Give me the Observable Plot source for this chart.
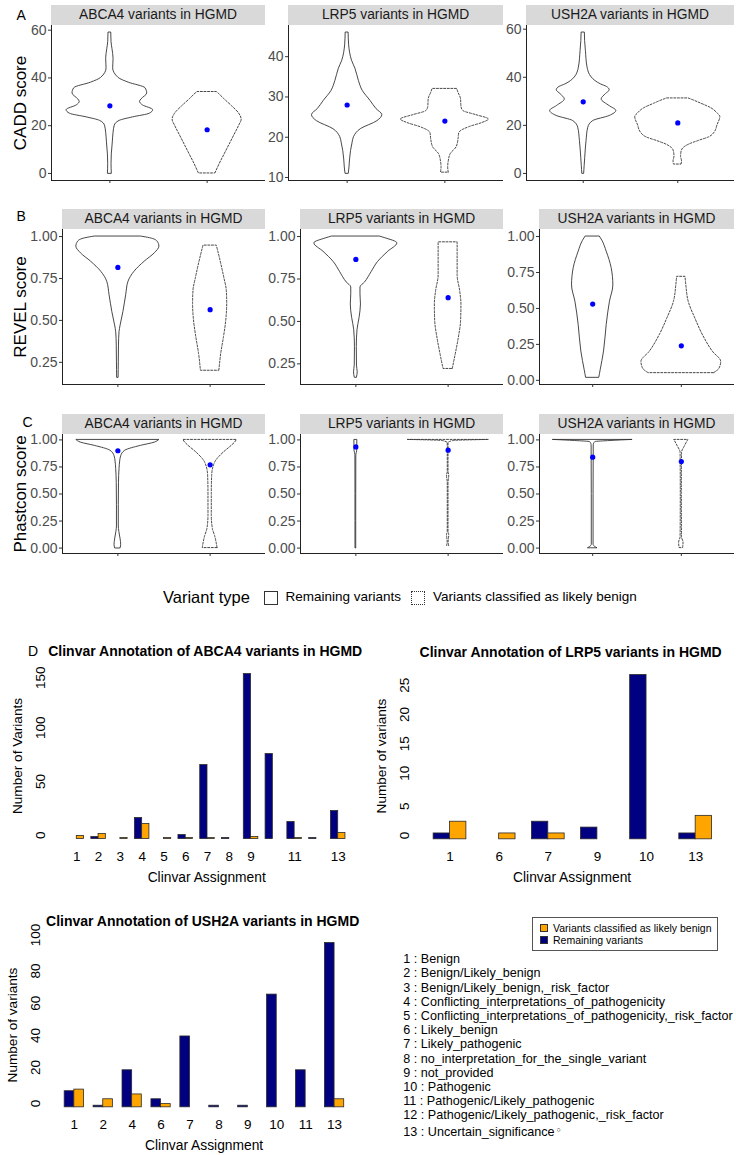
<!DOCTYPE html>
<html><head><meta charset="utf-8">
<script src="https://cdn.jsdelivr.net/npm/d3@7"></script>
<script src="https://cdn.jsdelivr.net/npm/@observablehq/plot@0.6"></script>
<style>
body{margin:0;background:#fff;}
#page{position:relative;width:736px;height:1155px;font-family:"Liberation Sans",Arial,Helvetica,sans-serif;overflow:hidden;background:#fff;}
.t{position:absolute;white-space:nowrap;}
.strip{position:absolute;background:#d9d9d9;color:#1a1a1a;font-size:13.8px;text-align:center;}
.plot{position:absolute;}
</style></head><body><div id="page"></div>
<script>
// ---------------- DATA ----------------
const genes = ["ABCA4", "LRP5", "USH2A"];
const variantTypes = ["Remaining variants", "Variants classified as likely benign"];
const panelLetters = ["A", "B", "C", "D"];
const scoreTitles = ["CADD score", "REVEL score", "Phastcon score"];

// violin profiles: [score, half-width (x units)]
const caddABCA4Remaining = [[0,0.02],[4,0.017],[8,0.02],[13,0.03],[17,0.038],[20,0.05],[22,0.1],[23.5,0.24],[25,0.41],[26.5,0.445],[28.5,0.34],[30,0.31],[31,0.325],[33.5,0.384],[35.7,0.366],[38,0.195],[40,0.09],[44,0.034],[48,0.038],[52,0.027],[55,0.017],[59,0.014]];
const caddABCA4Benign = [[0,0.085],[4,0.13],[8,0.18],[12,0.23],[16,0.28],[20,0.33],[22.5,0.355],[25,0.33],[28,0.26],[31,0.18],[33,0.13],[34.1,0.1]];
const caddLRP5Remaining = [[11,0.017],[12.5,0.024],[14.5,0.03],[16.6,0.04],[18.5,0.055],[20,0.07],[22,0.14],[24,0.31],[25.5,0.36],[27,0.3],[29,0.24],[31.5,0.16],[34,0.12],[37,0.085],[39,0.05],[41,0.03],[43,0.02],[46,0.015]];
const caddLRP5Benign = [[11.2,0.04],[12.5,0.034],[14,0.04],[15.8,0.06],[17.5,0.12],[19.5,0.14],[21,0.147],[22.5,0.25],[23.5,0.38],[24.4,0.45],[25.5,0.32],[26.5,0.19],[27.5,0.17],[29.5,0.165],[31,0.14],[32,0.126]];
const caddUSH2ARemaining = [[0,0.01],[3,0.015],[6.5,0.021],[13.5,0.035],[19,0.053],[21.8,0.106],[23.9,0.28],[26,0.35],[28,0.28],[30.8,0.195],[33,0.24],[34.6,0.28],[36,0.25],[37,0.19],[39.9,0.09],[44,0.046],[51,0.028],[55,0.02],[58.6,0.017]];
const caddUSH2ABenign = [[3.7,0.04],[5,0.045],[7,0.035],[9,0.04],[10.5,0.06],[12,0.12],[13.5,0.22],[15,0.33],[17,0.39],[20,0.42],[23.5,0.45],[25,0.42],[27,0.36],[29,0.25],[30.5,0.16],[31.2,0.113]];

const revelABCA4Remaining = [[0.16,0.008],[0.25,0.01],[0.35,0.012],[0.43,0.018],[0.47,0.03],[0.55,0.06],[0.65,0.09],[0.73,0.115],[0.79,0.18],[0.85,0.29],[0.9,0.4],[0.94,0.45],[0.97,0.43],[0.99,0.35],[1.0,0.25]];
const revelABCA4Benign = [[0.2,0.1],[0.3,0.12],[0.4,0.15],[0.5,0.175],[0.6,0.185],[0.68,0.18],[0.75,0.155],[0.85,0.115],[0.946,0.072]];
const revelLRP5Remaining = [[0.17,0.012],[0.2,0.02],[0.24,0.012],[0.35,0.01],[0.45,0.018],[0.52,0.04],[0.6,0.055],[0.66,0.05],[0.7,0.05],[0.73,0.1],[0.79,0.17],[0.85,0.24],[0.91,0.35],[0.96,0.45],[0.99,0.32],[1.0,0.26]];
const revelLRP5Benign = [[0.22,0.05],[0.3,0.08],[0.4,0.115],[0.5,0.14],[0.6,0.144],[0.68,0.13],[0.77,0.103],[0.9,0.103],[0.966,0.103]];
const revelUSH2ARemaining = [[0.02,0.075],[0.07,0.09],[0.2,0.128],[0.384,0.158],[0.547,0.195],[0.66,0.233],[0.78,0.214],[0.895,0.158],[0.97,0.11],[1.0,0.08]];
const revelUSH2ABenign = [[0.05,0.37],[0.08,0.43],[0.128,0.45],[0.198,0.357],[0.314,0.244],[0.43,0.158],[0.547,0.083],[0.663,0.056],[0.72,0.047]];

const phastABCA4Remaining = [[0,0.03],[0.03,0.036],[0.08,0.03],[0.15,0.016],[0.2,0.01],[0.4,0.01],[0.6,0.012],[0.73,0.018],[0.8,0.025],[0.85,0.036],[0.9,0.08],[0.945,0.25],[0.975,0.4],[1.0,0.45]];
const phastABCA4Benign = [[0,0.08],[0.05,0.07],[0.11,0.054],[0.175,0.03],[0.3,0.018],[0.5,0.018],[0.67,0.022],[0.79,0.054],[0.88,0.144],[0.95,0.24],[0.975,0.27],[1.0,0.29]];
const phastLRP5Remaining = [[0,0.004],[0.5,0.004],[0.86,0.005],[0.9,0.015],[1.0,0.016]];
const phastLRP5Benign = [[0.02,0.012],[0.05,0.005],[0.12,0.012],[0.15,0.004],[0.6,0.004],[0.67,0.012],[0.7,0.004],[0.97,0.004],[0.99,0.06],[1.0,0.44]];
const phastUSH2ARemaining = [[0,0.05],[0.01,0.03],[0.03,0.01],[0.5,0.01],[0.95,0.012],[0.98,0.03],[0.99,0.2],[1.0,0.45]];
const phastUSH2ABenign = [[0,0.02],[0.05,0.025],[0.1,0.008],[0.5,0.006],[0.88,0.008],[0.94,0.04],[1.0,0.08]];

// mean points (blue dots), per gene
const caddMeanRemaining = [28.3, 28.0, 29.8];
const caddMeanBenign = [18.3, 24.0, 21.0];
const revelMeanRemaining = [0.816, 0.865, 0.53];
const revelMeanBenign = [0.564, 0.64, 0.24];
const phastMeanRemaining = [0.90, 0.935, 0.84];
const phastMeanBenign = [0.77, 0.905, 0.80];

// y tick labels per gene
const caddTicks = [[0,20,40,60],[10,20,30,40],[0,20,40,60]];
const revelTicks = [[0.25,0.5,0.75,1],[0.25,0.5,0.75,1],[0,0.25,0.5,0.75,1]];
const phastTicks = [[0,0.25,0.5,0.75,1],[0,0.25,0.5,0.75,1],[0,0.25,0.5,0.75,1]];

// Clinvar bar data
const clinvarCodes = ["1","2","3","4","5","6","7","8","9","10","11","12","13"];
const clinvarNames = ["Benign","Benign/Likely_benign","Benign/Likely_benign,_risk_factor","Conflicting_interpretations_of_pathogenicity","Conflicting_interpretations_of_pathogenicity,_risk_factor","Likely_benign","Likely_pathogenic","no_interpretation_for_the_single_variant","not_provided","Pathogenic","Pathogenic/Likely_pathogenic","Pathogenic/Likely_pathogenic,_risk_factor","Uncertain_significance"];

const abca4Categories = ["1","2","3","4","5","6","7","8","9","10","11","12","13"];
const abca4Remaining = [0,2,0,21,0,4,74,1,165,85,17,1,28];
const abca4Benign = [3,5,1,15,1,1,1,0,2,0,1,0,6];
const abca4ShownLabels = ["1","2","3","4","5","6","7","8","9","11","13"];
const abca4YTicks = [0,50,100,150];

const lrp5Categories = ["1","6","7","9","10","13"];
const lrp5Remaining = [1,0,3,2,28,1];
const lrp5Benign = [3,1,1,0,0,4];
const lrp5ShownLabels = ["1","6","7","9","10","13"];
const lrp5YTicks = [0,5,10,15,20,25];

const ush2aCategories = ["1","2","4","6","7","8","9","10","11","13"];
const ush2aRemaining = [10,1,23,5,44,1,1,70,23,102];
const ush2aBenign = [11,5,8,2,0,0,0,0,0,5];
const ush2aShownLabels = ["1","2","4","6","7","8","9","10","11","13"];
const ush2aYTicks = [0,20,40,60,80,100];

const barColors = ["#000080", "#FFA500"]; // remaining, benign

// ---------------- LAYOUT HELPERS ----------------
const page = document.getElementById("page");
const FONT = '"Liberation Sans", Arial, Helvetica, sans-serif';

function text(str, x, baseline, size, opts = {}) {
  const d = document.createElement("div");
  d.className = "t";
  d.textContent = str;
  d.style.fontSize = size + "px";
  d.style.lineHeight = size + "px";
  d.style.top = (baseline - 0.85 * size) + "px";
  d.style.left = x + "px";
  if (opts.bold) d.style.fontWeight = "bold";
  if (opts.color) d.style.color = opts.color;
  if (opts.center) d.style.transform = "translateX(-50%)";
  page.appendChild(d);
  return d;
}
function vtext(str, cx, cy, size) {
  const d = document.createElement("div");
  d.className = "t";
  d.textContent = str;
  d.style.fontSize = size + "px";
  d.style.lineHeight = size + "px";
  d.style.left = cx + "px";
  d.style.top = cy + "px";
  d.style.transform = "translate(-50%,-50%) rotate(-90deg)";
  page.appendChild(d);
}
function place(svg, left, top) {
  svg.classList.add("plot");
  svg.style.left = left + "px";
  svg.style.top = top + "px";
  page.appendChild(svg);
}

// ---------------- VIOLIN PANELS ----------------
function violinPanel({frame, remaining, benign, meanR, meanB, ticks, fmt, strip}) {
  const [x0, x1, y0, y1] = frame;
  const vals = remaining.concat(benign).map(d => d[0]);
  const lo = d3.min(vals), hi = d3.max(vals), pad = (hi - lo) * 0.05;
  const ml = 44, mr = 3, mt = 1, mb = 6;
  const rem = remaining.map(([v, w]) => ({g: 1, v, w}));
  const ben = benign.map(([v, w]) => ({g: 2, v, w}));
  const means = [{g: 1, v: meanR}, {g: 2, v: meanB}];
  const common = {y: "v", x1: d => d.g - d.w, x2: d => d.g + d.w, fill: "white", stroke: "#333", strokeWidth: 0.9, curve: "monotone-y"};
  const svg = Plot.plot({
    width: x1 - x0 + ml + mr, height: y1 - y0 + mt + mb,
    marginLeft: ml, marginRight: mr, marginTop: mt, marginBottom: mb,
    style: {background: "transparent", color: "#4d4d4d", fontFamily: FONT, overflow: "visible"},
    x: {domain: [0.4, 2.6], axis: null},
    y: {domain: [lo - pad, hi + pad], axis: null},
    marks: [
      Plot.areaX(rem, common),
      Plot.areaX(ben, {...common, strokeDasharray: "2,1.6"}),
      Plot.dot(means, {x: "g", y: "v", fill: "blue", r: 2.6}),
      Plot.ruleX([0.4], {stroke: "#222", strokeWidth: 1}),
      Plot.ruleY([lo - pad], {stroke: "#222", strokeWidth: 1}),
      Plot.axisY({ticks, tickFormat: fmt, tickSize: 3, tickPadding: 2, fontSize: 14, label: null, stroke: "#333"}),
      Plot.axisX({ticks: [1, 2], tickFormat: () => "", tickSize: 3, label: null, stroke: "#333"})
    ]
  });
  place(svg, x0 - ml, y0 - mt);
  const s = document.createElement("div");
  s.className = "strip";
  s.style.left = x0 + "px"; s.style.width = (x1 - x0) + "px";
  s.style.top = (y0 - 20) + "px"; s.style.height = "20px"; s.style.lineHeight = "20px";
  s.textContent = strip;
  page.appendChild(s);
}

const rowFrames = [
  {y: [25, 180], xs: [[51, 265], [288, 503], [526, 734]]},
  {y: [229, 384], xs: [[62, 265], [300, 503], [539, 734]]},
  {y: [434, 553], xs: [[62, 265], [300, 503], [539, 734]]}
];
const rows = [
  {rem: [caddABCA4Remaining, caddLRP5Remaining, caddUSH2ARemaining], ben: [caddABCA4Benign, caddLRP5Benign, caddUSH2ABenign], mR: caddMeanRemaining, mB: caddMeanBenign, ticks: caddTicks, fmt: d3.format("d")},
  {rem: [revelABCA4Remaining, revelLRP5Remaining, revelUSH2ARemaining], ben: [revelABCA4Benign, revelLRP5Benign, revelUSH2ABenign], mR: revelMeanRemaining, mB: revelMeanBenign, ticks: revelTicks, fmt: d3.format(".2f")},
  {rem: [phastABCA4Remaining, phastLRP5Remaining, phastUSH2ARemaining], ben: [phastABCA4Benign, phastLRP5Benign, phastUSH2ABenign], mR: phastMeanRemaining, mB: phastMeanBenign, ticks: phastTicks, fmt: d3.format(".2f")}
];
rows.forEach((r, ri) => {
  const f = rowFrames[ri];
  genes.forEach((g, gi) => {
    violinPanel({
      frame: [f.xs[gi][0], f.xs[gi][1], f.y[0], f.y[1]],
      remaining: r.rem[gi], benign: r.ben[gi], meanR: r.mR[gi], meanB: r.mB[gi],
      ticks: r.ticks[gi], fmt: r.fmt, strip: `${g} variants in HGMD`
    });
  });
  vtext(scoreTitles[ri], 20, (f.y[0] + f.y[1]) / 2, 17);
});
text(panelLetters[0], 16.5, 19.5, 14);
text(panelLetters[1], 16.5, 221, 14);
text(panelLetters[2], 22.5, 427, 14);
text(panelLetters[3], 28, 655.5, 14);

// ggplot legend
text("Variant type", 163, 603, 16.5);
[[263.5, variantTypes[0], "solid"], [411, variantTypes[1], "dotted"]].forEach(([x, label, st]) => {
  const b = document.createElement("div");
  b.style.position = "absolute"; b.style.left = x + "px"; b.style.top = "590.5px";
  b.style.width = "12px"; b.style.height = "12px"; b.style.border = "1px " + st + " #333";
  page.appendChild(b);
  text(label, x + 22, 601.5, 13.5);
});

// ---------------- BAR CHARTS ----------------
function barChart({frame, categories, remaining, benign, shown, yTicks, title, ytitle, titleBaseline}) {
  const [x0, x1, y0, y1] = frame;
  const n = categories.length;
  const ext = 0.04 * (3 * n - 1);
  const ymax = d3.max(remaining.concat(benign));
  const data = [];
  categories.forEach((c, i) => {
    data.push({c, s: variantTypes[0], x1: 3 * i + 1, x2: 3 * i + 2, v: remaining[i]});
    data.push({c, s: variantTypes[1], x1: 3 * i + 2, x2: 3 * i + 3, v: benign[i]});
  });
  const labelPos = new Map(categories.map((c, i) => [3 * i + 2, c]));
  const tickPos = categories.map((c, i) => 3 * i + 2).filter(p => shown.includes(labelPos.get(p)));
  const ml = 30, mr = 4, mt = 4, mb = 26;
  const svg = Plot.plot({
    width: x1 - x0 + ml + mr, height: y1 - y0 + mt + mb,
    marginLeft: ml, marginRight: mr, marginTop: mt, marginBottom: mb,
    style: {background: "transparent", color: "#000", fontFamily: FONT, overflow: "visible"},
    x: {domain: [1 - ext, 3 * n + ext], axis: null},
    y: {domain: [-0.04 * ymax, 1.04 * ymax], axis: null},
    color: {domain: variantTypes, range: barColors},
    marks: [
      Plot.rect(data, {x1: "x1", x2: "x2", y1: 0, y2: "v", fill: "s", stroke: "#2a2a2a", strokeWidth: 0.8}),
      Plot.axisX({ticks: tickPos, tickFormat: p => labelPos.get(p), tickSize: 0, tickPadding: 5.5, fontSize: 13.5, label: null}),
      Plot.text(yTicks, {y: d => d, text: d => String(d), frameAnchor: "left", dx: -18, rotate: -90, lineAnchor: "middle", fontSize: 13.5, fill: "#000"})
    ]
  });
  place(svg, x0 - ml, y0 - mt);
  text(title, (x0 + x1) / 2 - 1.5, titleBaseline, 14, {bold: true, center: true});
  text("Clinvar Assignment", (x0 + x1) / 2, y1 + 37.7, 13.8, {center: true});
  vtext(ytitle, x0 - 40, (y0 + y1) / 2, 13.6);
}

barChart({frame: [57.7, 355.7, 666.7, 844.9], categories: abca4Categories, remaining: abca4Remaining, benign: abca4Benign, shown: abca4ShownLabels, yTicks: abca4YTicks, title: "Clinvar Annotation of ABCA4 variants in HGMD", ytitle: "Number of Variants", titleBaseline: 655.5});
barChart({frame: [421.8, 722.5, 667.5, 844.9], categories: lrp5Categories, remaining: lrp5Remaining, benign: lrp5Benign, shown: lrp5ShownLabels, yTicks: lrp5YTicks, title: "Clinvar Annotation of LRP5 variants in HGMD", ytitle: "Number of variants", titleBaseline: 656.5});
barChart({frame: [53.2, 355.1, 935.9, 1113.3], categories: ush2aCategories, remaining: ush2aRemaining, benign: ush2aBenign, shown: ush2aShownLabels, yTicks: ush2aYTicks, title: "Clinvar Annotation of USH2A variants in HGMD", ytitle: "Number of variants", titleBaseline: 925.5});

// bar legend box
const lg = document.createElement("div");
lg.style.cssText = "position:absolute;left:531.5px;top:917px;width:186px;height:34px;border:1px solid #555;box-sizing:border-box;";
page.appendChild(lg);
[[variantTypes[1], barColors[1], 931.5], [variantTypes[0], barColors[0], 944]].forEach(([label, col, bl]) => {
  const sq = document.createElement("div");
  sq.style.cssText = `position:absolute;left:540px;top:${bl - 8}px;width:8px;height:8px;background:${col};border:1px solid #333;box-sizing:border-box;`;
  page.appendChild(sq);
  text(label, 553, bl, 10.5);
});

// code list
clinvarCodes.forEach((c, i) => {
  const d = text(`${c} : ${clinvarNames[i]}`, 403.3, 964 + i * 14.2, 12.6);
  if (i === clinvarCodes.length - 1) {
    const o = document.createElement("span");
    o.textContent = "○";
    o.style.cssText = "font-size:7px;vertical-align:4px;margin-left:2px;";
    d.appendChild(o);
  }
});
</script></body></html>
